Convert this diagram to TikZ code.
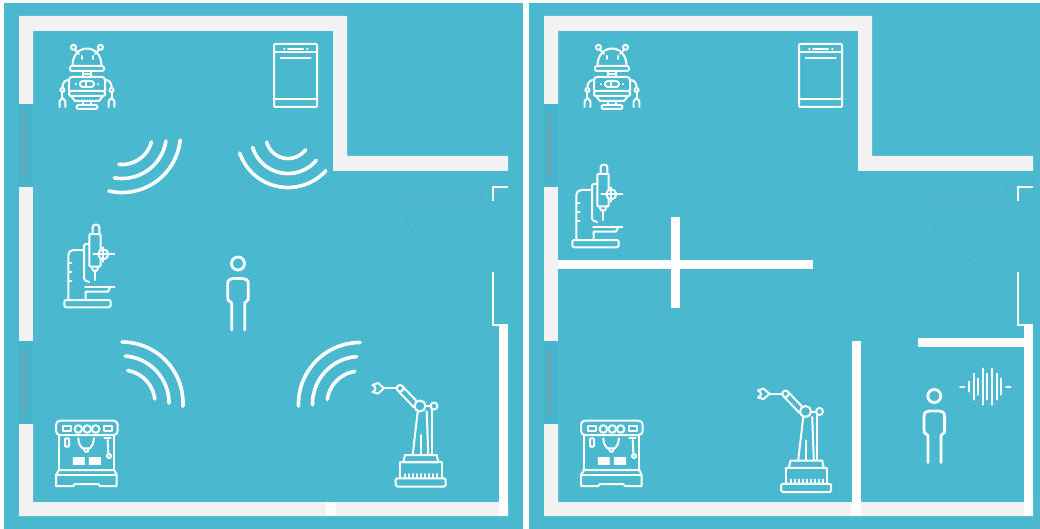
\documentclass[tikz,border=0pt]{standalone}
\usepackage{tikz}
\definecolor{tealclr}  {RGB}{74, 185, 208}
\definecolor{wallclr}  {RGB}{242, 242, 242}
\definecolor{windowclr}{RGB}{72, 180, 203}
\definecolor{glassclr} {RGB}{130, 155, 165}
\definecolor{doorclr}  {RGB}{84, 174, 196}
\tikzset{
  icon/.style={white, line width=2pt, line cap=round, line join=round},
  wavearc/.style={white, line width=3.6pt, line cap=round},
  thinwall/.style={white, line width=2pt},
  doorline/.style={doorclr, line width=0.7pt},
  % robot with antennas
  robot/.pic={
    \begin{scope}[icon]
      \foreach \s in {-1,1} {
        \draw (\s*13.5,-28.7) circle (2.5pt);
        \draw (\s*12,-26.5) -- (\s*8,-22);
        \draw (\s*5.5,-20) -- (\s*5.5,-17);
        % arm and claw
        \draw (\s*18,4) .. controls (\s*21,4) and (\s*24.5,5) .. (\s*24.6,12);
        \draw (\s*24.6,14) circle (2pt);
        \draw (\s*24.6,16) -- (\s*24.6,22);
        \draw (\s*27.3,31) -- (\s*27.3,25) -- (\s*24.6,22) -- (\s*21.7,25) -- (\s*21.7,31);
        \draw (\s*11,8) -- (\s*11,8.5);
      }
      \draw (-14.5,-10) .. controls (-14.5,-22) and (-7,-27.5) .. (0,-27.5)
        .. controls (7,-27.5) and (14.5,-22) .. (14.5,-10);
      \draw[rounded corners=2pt] (-17,-10) rectangle (17,-5);
      \draw (-4,-5) -- (-4,1) (4,-5) -- (4,1) (-4,-2) -- (4,-2);
      \draw[rounded corners=3pt] (-18,15) -- (-18,1) -- (18,1) -- (18,15);
      \draw[rounded corners=2pt] (-18,15) rectangle (18,20);
      \draw (-16,20) -- (-12,25) -- (12,25) -- (16,20);
      \draw (-4,25) -- (-4,29) (4,25) -- (4,29);
      \draw[rounded corners=2pt] (-10.5,29) rectangle (10.5,33);
      \draw[rounded corners=2.8pt] (-7,5) rectangle (7,11);
      \draw (-1,5) -- (-1,11);
    \end{scope}
  },
  % dishwasher
  washer/.pic={
    \begin{scope}[icon]
      \draw[rounded corners=1pt] (-21.5,-31.5) rectangle (21.5,31.5);
      \draw (-21.5,-23.8) -- (21.5,-23.8);
      \draw (-11.5,-26.5) -- (-11,-26.5) (-7.5,-26.5) -- (7.5,-26.5) (11.5,-26.5) -- (12,-26.5);
      \draw (-14.8,-17.8) -- (15.2,-17.8);
      \draw (-21.5,23.8) -- (21.5,23.8);
    \end{scope}
  },
  % pillar drill
  drill/.pic={
    \begin{scope}[icon]
      \draw[rounded corners=2.5pt] (2.7,-33) -- (2.7,-42.3) -- (9.3,-42.3) -- (9.3,-33);
      \draw[rounded corners=1pt] (-0.7,-33) rectangle (10.7,-0.5);
      \draw (1.5,-0.5) -- (3,3.5) -- (7,3.5) -- (8.5,-0.5);
      \draw (5,3.5) -- (5,13);
      \draw[fill=tealclr] (13.3,-12.7) circle (5pt);
      \draw (3.3,-12.7) -- (24.3,-12.7) (13.3,-19.7) -- (13.3,-5.3);
      \draw[rounded corners=1.5pt] (-0.7,-23) -- (-6,-23) -- (-6,13) -- (-1,15);
      \draw[rounded corners=5pt] (-21.7,33) -- (-21.7,-17) -- (-6,-17);
      \foreach \t in {-4.3,4.7,13.7} \draw (-21.7,\t) -- (-18.5,\t);
      \draw (-5,19.7) -- (24.3,19.7);
      \draw (-4.3,33) -- (-4.3,24.7) -- (18,24.7) -- (20.5,19.7);
      \draw[rounded corners=2pt] (-25.7,33) rectangle (20.7,40.3);
    \end{scope}
  },
  % espresso machine
  coffee/.pic={
    \begin{scope}[icon]
      \draw[rounded corners=4pt] (-31,-32.3) rectangle (30.7,-18);
      \draw (-23.7,-27) rectangle (-16,-22.3) (17.3,-27) rectangle (24.7,-22.3);
      \foreach \t in {-8.7,0.3,8.7} \draw (\t,-24) circle (3.8pt);
      \draw (-28,-18) -- (-28,17) (27.3,-18) -- (27.3,17);
      \draw[rounded corners=1pt] (-22,-14.7) rectangle (-18,-6.3);
      \draw (-8.7,-14.7) .. controls (-8,-9) .. (-4.7,-4.7) -- (3,-4.7)
        .. controls (6,-9) .. (7,-14.7);
      \draw (-3,-4.7) -- (-2,-1.5) -- (1,-1.5) -- (1.5,-4.7);
      \draw (17.3,-14.7) -- (23.7,-14.7);
      \draw (20.7,-13) -- (21.3,0);
      \draw (22,3) circle (2pt);
      \foreach \t in {5,7,9,11} {
        \draw[line width=1.3pt] (-13.7,\t) -- (-2.7,\t) (2.3,\t) -- (13.6,\t);
      }
      \draw (-28,17) -- (-31,22) -- (-31,33) -- (-13.7,33) -- (-12,31)
        -- (11.3,31) -- (13,33) -- (29.7,33) -- (29.7,22) -- (27.3,17) -- cycle;
      \draw (-31,22) -- (29.7,22);
    \end{scope}
  },
  % robot arm on a plinth
  armbot/.pic={
    \begin{scope}[icon]
      \draw (-47.5,-50) -- (-42,-52) -- (-36,-46.7) -- (-42,-41.5) -- (-47.5,-43);
      \draw (-47.5,-50) .. controls (-43.5,-48) and (-43.5,-45) .. (-47.5,-43);
      \draw (-36,-46.7) -- (-23.5,-46.7);
      \draw (-20,-46.7) circle (3.3pt);
      \draw (-17.5,-48.7) -- (-3,-33.5) (-21.5,-43.7) -- (-6,-27.5);
      \draw (0,-29) circle (5.5pt);
      \draw (14,-29) circle (3.5pt);
      \draw (5.5,-29) -- (10.5,-29);
      \draw (-2.3,-23.5) -- (-7.3,20) (6.7,-23.5) -- (8.3,20);
      \draw (11.7,-25.5) -- (11.7,20);
      \draw (0.7,0) -- (0.7,20);
      \draw (-15,20) -- (16.7,20) -- (18.3,27.3) -- (-16.7,27.3) -- cycle;
      \draw (-20,27.3) -- (21.7,27.3) -- (21.7,43.3) (-20,27.3) -- (-20,43.3);
      \foreach \t in {-15,-11,-7,-3,1,5,9,13,17} \draw (\t,39) -- (\t,43.3);
      \draw[rounded corners=1.5pt] (-24.3,43.3) rectangle (25.7,51.5);
    \end{scope}
  },
  % standing person
  person/.pic={
    \begin{scope}[white, line width=2.8pt, line cap=round, line join=round]
      \draw (0,-28.5) circle (6.5pt);
      \draw (-6.3,38) -- (-6.3,11) -- (-10,8) .. controls (-10.3,6) .. (-10.3,-8)
        .. controls (-10.3,-12) and (-8,-13.5) .. (-5,-13.5) -- (5,-13.5)
        .. controls (8,-13.5) and (10.3,-12) .. (10.3,-8)
        .. controls (10.3,6) .. (10,8) -- (6.7,11) -- (6.7,38);
    \end{scope}
  },
  % floor plan shell, both panels share it
  floorplan/.pic={
    \fill[wallclr] (19,104) -- (19,16) -- (347,16) -- (347,156) -- (508,156) -- (508,171)
      -- (333,171) -- (333,31) -- (33,31) -- (33,104) -- cycle;
    \fill[wallclr] (19,187) rectangle (33,341);
    \fill[wallclr] (19,424) -- (19,516) -- (508,516) -- (508,502) -- (33,502) -- (33,424) -- cycle;
    \fill[white] (326,502) rectangle (336,516);
    \fill[white] (499,324) rectangle (508,516);
    % windows
    \foreach \t in {104,341} {
      \fill[windowclr] (19,\t) rectangle (33,\t+83);
      \draw[glassclr, line width=1.8pt] (23.7,\t+10) -- (23.7,\t+72);
    }
    % door
    \draw[doorline] (481.5,186) rectangle (492,201);
    \draw[doorline] (404,198) -- (481.5,198) (404,201) -- (492,201);
    \draw[doorline] (404,201) .. controls (404,240) and (445,272) .. (492,272);
    \draw[doorline] (508,171) -- (508,186);
    \draw[thinwall] (493,201) -- (493,187) -- (508,187);
    \draw[thinwall] (493,272) -- (493,325) -- (500,325);
  }
}
\newcommand{\wavearcs}[3]{%
  \foreach \r/\a/\b in {#3}
    \draw[wavearc, domain=\a:\b, samples=40] plot ({#1+\r*cos(\x)},{#2+\r*sin(\x)});
}
\begin{document}
\begin{tikzpicture}[x=1pt, y=-1pt]
  \useasboundingbox (0,0) rectangle (1040,529);
  % panels
  \fill[tealclr] (4,3) rectangle (523,529);
  \fill[tealclr] (529,3) rectangle (1040,529);
  \pic at (0,0) {floorplan};
  \pic at (525,0) {floorplan};
  % left panel
  \pic at (87,76) {robot};
  \pic at (295.5,75.5) {washer};
  \pic at (90,267) {drill};
  \pic at (87,453) {coffee};
  \pic at (420,435) {armbot};
  \pic at (238,292) {person};
  \wavearcs{122}{134}{30.5/15/96, 44.5/9/100, 58.5/6/103}
  \wavearcs{288}{136.5}{22/37/165, 37/40/163, 51/42/161}
  \wavearcs{122}{403}{33/-80/-7, 47/-86/0, 61/-90/3}
  \wavearcs{360}{404}{33/188/261, 47.5/179/266, 61.5/178/270}
  % right panel
  \pic at (612,76) {robot};
  \pic at (820.5,75.5) {washer};
  \pic at (598,207) {drill};
  \pic at (612,453) {coffee};
  \pic at (805.5,440.5) {armbot};
  \pic at (934.3,424.5) {person};
  % inner walls
  \fill[white] (558,260) rectangle (813,269);
  \fill[white] (671,217) rectangle (680,308);
  \fill[white] (852,341) rectangle (861,516);
  \fill[white] (918,338) rectangle (1026,347);
  % sound
  \foreach \t/\h in {969.3/5, 974/13, 978.3/8, 983/18, 987.3/13, 992/18, 996.7/13, 1001.3/8}
    \draw[icon] (\t,386.7-\h) -- (\t,386.7+\h);
  \draw[icon] (960,386.7) -- (964.3,386.7) (1006,386.7) -- (1010.3,386.7);
\end{tikzpicture}
\end{document}
